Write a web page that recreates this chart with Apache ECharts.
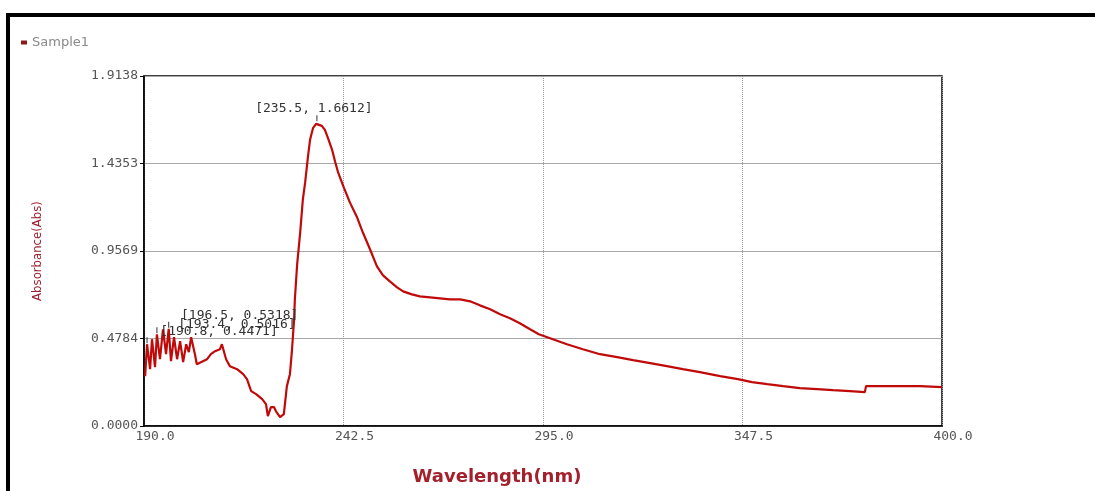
<!DOCTYPE html>
<html>
<head>
<meta charset="utf-8">
<script src="https://cdn.jsdelivr.net/npm/echarts@6/dist/echarts.min.js"></script>
<style>
  html, body { margin: 0; padding: 0; background: #fff; }
  #chart { width: 1095px; height: 491px; }
</style>
</head>
<body>
<div id="chart"></div>
<script>
// spectrum
const wavelength = [
  190.3, 190.8, 191.6, 192.1, 192.9, 193.4, 194.2, 195.0, 195.8, 196.5,
  197.1, 197.9, 198.7, 199.5, 200.3, 201.1, 201.8, 202.4, 203.4, 203.9,
  205.5, 206.6, 207.6, 208.7, 210.0, 210.5, 211.6, 212.6, 214.5, 216.1,
  217.1, 218.2, 219.5, 221.1, 222.1, 222.6, 223.4, 224.2, 224.7, 225.8,
  226.8, 227.6, 228.4, 228.9, 229.5, 229.7, 230.3, 231.1, 231.8, 232.4,
  233.2, 233.7, 234.5, 235.3, 235.5, 236.8, 237.6, 238.4, 239.5, 240.3,
  241.1, 242.6, 244.2, 246.1, 247.6, 249.5, 251.3, 252.9, 254.7, 256.6,
  258.2, 260.5, 262.6, 265.3, 267.9, 270.5, 273.2, 275.8, 278.4, 281.1,
  283.7, 286.3, 288.9, 291.6, 293.9, 297.6, 301.3, 305.5, 310.0, 314.5,
  318.7, 323.2, 327.6, 331.8, 336.3, 341.6, 346.3, 350.0, 354.0, 358.2,
  362.6, 367.1, 371.3, 375.8, 379.7, 380.0, 383.7, 388.9, 394.2, 400.0
];
const absorbance = [
  0.2726, 0.4471, 0.3108, 0.4744, 0.3217, 0.5016, 0.3653, 0.5289, 0.3926, 0.5318,
  0.3544, 0.4853, 0.3653, 0.4635, 0.3490, 0.4471, 0.4035, 0.4853, 0.3926, 0.3380,
  0.3544, 0.3653, 0.3926, 0.4089, 0.4198, 0.4471, 0.3653, 0.3271, 0.3108, 0.2835,
  0.2563, 0.1908, 0.1745, 0.1472, 0.1200, 0.0545, 0.1036, 0.1036, 0.0818, 0.0491,
  0.0654, 0.2181, 0.2835, 0.4035, 0.5834, 0.6925, 0.8833, 1.0578, 1.2377, 1.3304,
  1.4831, 1.5648, 1.6303, 1.6521, 1.6612, 1.6412, 1.6194, 1.5757, 1.5103, 1.4449,
  1.3849, 1.3031, 1.2213, 1.1396, 1.0578, 0.9651, 0.8724, 0.8233, 0.7906, 0.7579,
  0.7361, 0.7197, 0.7088, 0.7034, 0.6979, 0.6925, 0.6925, 0.6816, 0.6597, 0.6379,
  0.6107, 0.5889, 0.5616, 0.5289, 0.5016, 0.4744, 0.4471, 0.4198, 0.3926, 0.3762,
  0.3599, 0.3435, 0.3271, 0.3108, 0.2944, 0.2726, 0.2563, 0.2399, 0.2290, 0.2181,
  0.2072, 0.2017, 0.1963, 0.1908, 0.1854, 0.2181, 0.2181, 0.2181, 0.2181, 0.2126
];
// picked peaks
const peakWavelength = [235.5, 196.5, 193.4, 190.8];
const peakAbsorbance = [1.6612, 0.5318, 0.5016, 0.4471];

const xTickLabels = ['190.0', '242.5', '295.0', '347.5', '400.0'];
const yTickLabels = ['0.0000', '0.4784', '0.9569', '1.4353', '1.9138'];

let chart = echarts.init(document.getElementById('chart'));

let lineData = wavelength.map((w, i) => [w, absorbance[i]]);
let labelOffsets = [[-3, 0], [71, 0], [80, 4], [72, 1]];
let peakMarks = peakWavelength.map((w, i) => ({
  coord: [w, peakAbsorbance[i]],
  value: '[' + w.toFixed(1) + ', ' + peakAbsorbance[i].toFixed(4) + ']',
  label: { offset: labelOffsets[i] }
}));

chart.setOption({
  animation: false,
  backgroundColor: '#fff',
  graphic: [
    { type: 'rect', shape: { x: 6, y: 13, width: 1089, height: 4 }, style: { fill: '#000' } },
    { type: 'rect', shape: { x: 6, y: 13, width: 4, height: 478 }, style: { fill: '#000' } }
  ],
  legend: {
    left: 16,
    top: 31,
    icon: 'rect',
    itemWidth: 6,
    itemHeight: 4,
    itemGap: 4,
    textStyle: { color: '#8a8a8a', fontSize: 13, fontFamily: 'DejaVu Sans', padding: [8, 0, 0, 0] },
    data: ['Sample1']
  },
  grid: {
    left: 144,
    right: 153,
    top: 76,
    bottom: 64,
    show: true,
    borderColor: '#000',
    borderWidth: 1.5
  },
  xAxis: {
    type: 'value',
    min: 190,
    max: 400,
    interval: 52.5,
    name: 'Wavelength(nm)',
    nameLocation: 'middle',
    nameGap: 42,
    nameTextStyle: {
      color: '#a3202c',
      fontSize: 18,
      fontWeight: 'bold',
      fontFamily: 'DejaVu Sans',
      padding: [0, 92, 0, 0]
    },
    axisLine: { lineStyle: { color: '#000', width: 1.5 } },
    axisTick: { show: false },
    axisLabel: {
      color: '#555',
      fontSize: 13,
      fontFamily: 'DejaVu Sans Mono',
      margin: 4,
      padding: [0, 0, 0, 22],
      formatter: (v, i) => xTickLabels[i]
    },
    splitLine: { show: true, lineStyle: { color: '#999', type: 'dotted', width: 1 } }
  },
  yAxis: {
    type: 'value',
    min: 0,
    max: 1.9138,
    interval: 0.47845,
    name: 'Absorbance(Abs)',
    nameLocation: 'middle',
    nameGap: 100,
    nameTextStyle: {
      color: '#9b2030',
      fontSize: 13,
      fontFamily: 'Liberation Sans Narrow, DejaVu Sans Condensed, sans-serif'
    },
    axisLine: { show: true, lineStyle: { color: '#000', width: 1.5 } },
    axisTick: { show: true, length: 4, lineStyle: { color: '#000' } },
    axisLabel: {
      color: '#555',
      fontSize: 13,
      fontFamily: 'DejaVu Sans Mono',
      margin: 6,
      showMaxLabel: true,
      formatter: (v, i) => yTickLabels[i]
    },
    splitLine: { show: true, lineStyle: { color: '#a8a8a8', type: 'solid', width: 1 } }
  },
  series: [{
    name: 'Sample1',
    type: 'line',
    data: lineData,
    showSymbol: false,
    color: '#8b1c1c',
    lineStyle: { color: '#c00a0a', width: 2.2 },
    markPoint: {
      symbol: 'rect',
      symbolSize: [1, 6],
      symbolOffset: [0, -4],
      itemStyle: { color: '#333' },
      label: {
        show: true,
        position: 'top',
        distance: 0,
        color: '#333',
        fontSize: 13,
        fontFamily: 'DejaVu Sans Mono',
        formatter: p => p.value
      },
      data: peakMarks
    }
  }]
});
</script>
</body>
</html>
